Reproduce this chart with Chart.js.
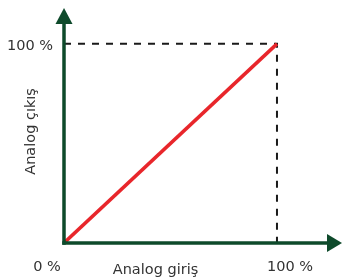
<!DOCTYPE html>
<html>
<head>
<meta charset="utf-8">
<script src="https://cdn.jsdelivr.net/npm/chart.js@4"></script>
<style>
  html, body { margin: 0; padding: 0; background: #fff; }
  #c { display: block; }
</style>
</head>
<body>
<canvas id="c" width="343" height="279"></canvas>
<script>
// data
var girisValues = [0, 100];
var cikisValues = [0, 100];
var refX = [0, 100, 100];
var refY = [100, 100, 0];
var xTickLabels = ["0 %", "100 %"];
var yTickLabels = ["100 %"];
var xTitle = "Analog giriş";
var yTitle = "Analog çıkış";

function toPoints(xs, ys) {
    var pts = [];
    for (var i = 0; i < xs.length; i++) pts.push({ x: xs[i], y: ys[i] });
    return pts;
}

var axisColor = "#0e4a2b";
var textColor = "#333333";
var fontStr = "14.5px 'DejaVu Sans'";

var eixosPlugin = {
    id: 'eixos',
    afterDatasetsDraw: function (chart) {
        var ctx = chart.ctx;
        var xs = chart.scales.x, ys = chart.scales.y;
        var x0 = xs.getPixelForValue(0), y0 = ys.getPixelForValue(0);
        var top = chart.chartArea.top, right = chart.chartArea.right - 1;
        ctx.save();
        ctx.strokeStyle = axisColor;
        ctx.fillStyle = axisColor;
        ctx.lineWidth = 3.5;
        ctx.lineCap = 'butt';
        // eixo y
        ctx.beginPath();
        ctx.moveTo(x0, y0 + 1.75);
        ctx.lineTo(x0, top + 12);
        ctx.stroke();
        ctx.beginPath();
        ctx.moveTo(x0, top);
        ctx.lineTo(x0 - 8.5, top + 16);
        ctx.lineTo(x0 + 8.5, top + 16);
        ctx.closePath();
        ctx.fill();
        // eixo x
        ctx.beginPath();
        ctx.moveTo(x0 - 1.75, y0);
        ctx.lineTo(right - 12, y0);
        ctx.stroke();
        ctx.beginPath();
        ctx.moveTo(right, y0);
        ctx.lineTo(right - 15, y0 - 9);
        ctx.lineTo(right - 15, y0 + 9);
        ctx.closePath();
        ctx.fill();
        ctx.restore();
    },
    afterDraw: function (chart) {
        var ctx = chart.ctx;
        var xs = chart.scales.x, ys = chart.scales.y;
        var x0 = xs.getPixelForValue(0), y0 = ys.getPixelForValue(0);
        var x100 = xs.getPixelForValue(100), y100 = ys.getPixelForValue(100);
        ctx.save();
        ctx.fillStyle = textColor;
        ctx.font = fontStr;
        ctx.textBaseline = 'middle';
        ctx.textAlign = 'center';
        ctx.fillText(xTickLabels[0], x0 - 17, y0 + 24);
        ctx.fillText(xTickLabels[1], x100 + 13, y0 + 24);
        ctx.fillText(xTitle, (x0 + x100) / 2 - 15, y0 + 27);
        ctx.textAlign = 'right';
        ctx.fillText(yTickLabels[0], x0 - 11, y100 + 2);
        ctx.translate(x0 - 33, (y0 + y100) / 2 - 12);
        ctx.rotate(-Math.PI / 2);
        ctx.textAlign = 'center';
        ctx.fillText(yTitle, 0, 0);
        ctx.restore();
    }
};

var ctxGrafico = document.getElementById("c");
var grafico = new Chart(ctxGrafico, {
    type: 'scatter',
    data: {
        datasets: [
            {
                data: toPoints(refX, refY),
                showLine: true,
                borderColor: "#1a1a1a",
                borderWidth: 2,
                borderDash: [7, 7],
                pointRadius: 0,
                order: 2
            },
            {
                data: toPoints(girisValues, cikisValues),
                showLine: true,
                borderColor: "#e8262b",
                borderWidth: 3.5,
                pointRadius: 0,
                order: 1
            }
        ]
    },
    options: {
        responsive: false,
        animation: false,
        layout: { padding: { left: 64, right: 0, top: 8, bottom: 36 } },
        plugins: { legend: { display: false }, tooltip: { enabled: false } },
        scales: {
            x: { type: 'linear', display: false, min: 0, max: 131 },
            y: { type: 'linear', display: false, min: 0, max: 118 }
        }
    },
    plugins: [eixosPlugin]
});
</script>
</body>
</html>
